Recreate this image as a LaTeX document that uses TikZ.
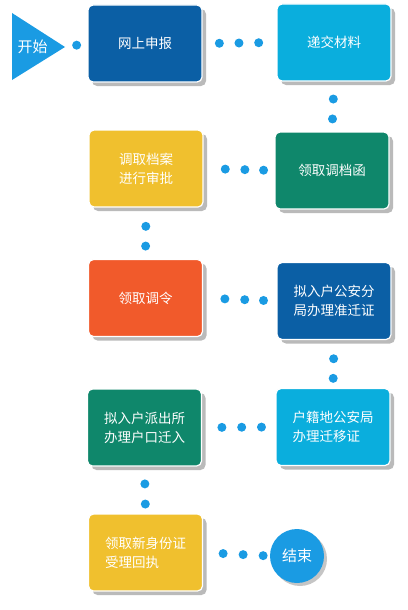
\documentclass[tikz,border=0pt]{standalone}
\usepackage{fontspec}
\setmainfont{Noto Sans CJK SC}
\usetikzlibrary{shadows,calc}
\definecolor{cdblue}{HTML}{0B5FA5}
\definecolor{clblue}{HTML}{0AAEDD}
\definecolor{cgreen}{HTML}{0F876B}
\definecolor{cyellow}{HTML}{F0C02E}
\definecolor{corange}{HTML}{F15A2B}
\definecolor{cdot}{HTML}{1A9BE3}
\tikzset{
  box/.style={rectangle, rounded corners=5pt, minimum width=114pt, minimum height=77pt,
    text=white, font=\fontsize{13.5}{19}\selectfont, align=left, draw=white, line width=1.2pt,
    drop shadow={shadow xshift=4pt, shadow yshift=-4pt, fill=black!45, opacity=0.6}},
  dot/.style={circle, fill=cdot, minimum size=9pt, inner sep=0pt},
  endc/.style={circle, fill=cdot, minimum size=54pt, inner sep=0pt, text=white,
    font=\fontsize{15}{18}\selectfont,
    drop shadow={shadow xshift=3pt, shadow yshift=-3pt, fill=black!45, opacity=0.5}},
  startlbl/.style={text=white, font=\fontsize{15}{18}\selectfont, inner sep=0pt}
}
\begin{document}
\begin{tikzpicture}[x=1pt,y=-1pt]
\useasboundingbox (0,0) rectangle (407,610);
% start
\fill[cdot] (12,13) -- (65,47) -- (12,80) -- cycle;
\node[startlbl] (start) at (32.5,47) {开始};
\coordinate (tip) at (65,47);
% boxes
\node[box, fill=cdblue] (b1) at (145,43.5) {网上申报};
\node[box, fill=clblue] (b2) at (334,42.5) {递交材料};
\node[box, fill=cgreen] (b3) at (332,170.5) {领取调档函};
\node[box, fill=cyellow] (b4) at (146,168.5) {调取档案\\进行审批};
\node[box, fill=corange] (b5) at (145.5,298) {领取调令};
\node[box, fill=cdblue] (b6) at (334,301) {拟入户公安分\\局办理准迁证};
\node[box, fill=clblue] (b7) at (333,427) {户籍地公安局\\办理迁移证};
\node[box, fill=cgreen] (b8) at (144.5,427.5) {拟入户派出所\\办理户口迁入};
\node[box, fill=cyellow] (b9) at (145.5,552.5) {领取新身份证\\受理回执};
\node[endc] (end) at (297,556) {结束};
% connectors
\path (tip) -- node[dot,pos=.52]{} (b1.west);
\path (b1.east) -- node[dot,pos=.227]{} node[dot,pos=.493]{} node[dot,pos=.76]{} (b2.west);
\path (b2.south) -- node[dot,pos=.35]{} node[dot,pos=.75]{} (b3.north);
\path (b4.east) -- node[dot,pos=.306]{} node[dot,pos=.583]{} node[dot,pos=.847]{} (b3.west);
\path (b4.south) -- node[dot,pos=.365]{} node[dot,pos=.75]{} (b5.north);
\path (b5.east) -- node[dot,pos=.297]{} node[dot,pos=.568]{} node[dot,pos=.824]{} (b6.west);
\path (b6.south) -- node[dot,pos=.39]{} node[dot,pos=.8]{} (b7.north);
\path (b8.east) -- node[dot,pos=.27]{} node[dot,pos=.54]{} node[dot,pos=.81]{} (b7.west);
\path (b8.south) -- node[dot,pos=.37]{} node[dot,pos=.8]{} (b9.north);
\path (b9.east) -- node[dot,pos=.3]{} node[dot,pos=.6]{} node[dot,pos=.9]{} (end.west);
\end{tikzpicture}
\end{document}
